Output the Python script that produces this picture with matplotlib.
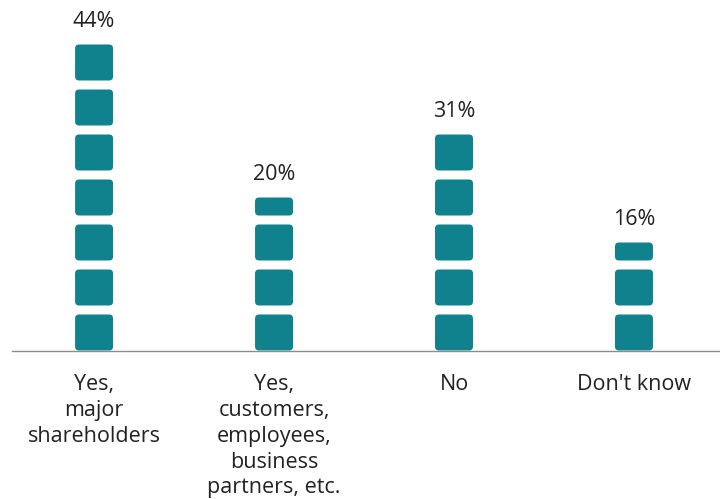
import numpy as np
import matplotlib.pyplot as plt
from matplotlib.patches import FancyBboxPatch

plt.rcParams['font.family'] = ['Open Sans', 'DejaVu Sans']

# Data
categories = ['Yes,\nmajor\nshareholders',
              'Yes,\ncustomers,\nemployees,\nbusiness\npartners, etc.',
              'No',
              "Don't know"]
values = [44, 20, 31, 16]           # percent labels
blocks = [7, 3.5, 5, 2.5]           # number of icon blocks per bar

teal = '#0f828e'
block_h = 0.8      # block height within one unit (rest is gap)
block_w = 0.211    # block width in category units

fig = plt.figure(figsize=(7.2, 4.99), dpi=100)
ax = fig.add_axes([12 / 720, (499 - 350.5) / 499, 708 / 720, 350.5 / 499])
ax.set_xlim(-0.456, 3.478)
ax.set_ylim(0, 350.5 / 45)

# keep rounded corners round despite unequal x/y scaling
x_per_px = (3.478 + 0.456) / 708
y_per_px = (350.5 / 45) / 350.5
aspect = y_per_px / x_per_px

for i, (v, n) in enumerate(zip(values, blocks)):
    top = 0
    for k in range(int(np.ceil(n))):
        h = min(1, n - k) * block_h
        p = FancyBboxPatch((i - block_w / 2, k), block_w, h,
                           boxstyle='round,pad=0,rounding_size=%f' % (4 * x_per_px),
                           mutation_aspect=aspect,
                           facecolor=teal, edgecolor='none', zorder=1)
        ax.add_patch(p)
        top = k + h
    ax.annotate('%d%%' % v, (i, top), xytext=(0, 16.5), textcoords='offset points',
                ha='center', va='center', fontsize=15.5, color='#222222')

ax.set_xticks(range(len(categories)))
ax.set_xticklabels(categories, fontsize=15.5, color='#222222', linespacing=1.3)
ax.tick_params(axis='x', length=0, pad=17)
ax.set_yticks([])

for s in ['top', 'right', 'left']:
    ax.spines[s].set_visible(False)
ax.spines['bottom'].set_color('#8c8c8c')
ax.spines['bottom'].set_linewidth(1.0)
ax.spines['bottom'].set_zorder(3)

fig.savefig('out.png', dpi=100)
